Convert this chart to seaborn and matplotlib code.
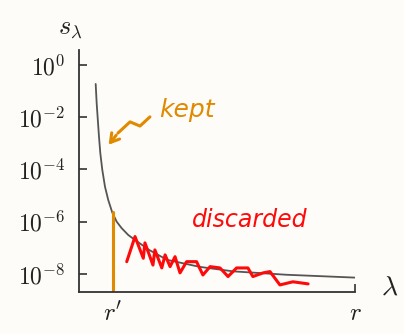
import numpy as np
import matplotlib
matplotlib.use("Agg")
import matplotlib.pyplot as plt
from matplotlib.ticker import NullLocator
import seaborn as sns

# spectrum (lambda in units where r = 100)
lam = [6.05, 6.41, 6.78, 7.25, 7.73, 8.45, 9.42, 10.6, 12.1, 13.66, 15.47, 17.86, 20.3, 25.4,
       31.9, 43.8, 55.8, 75.0, 100.0]
log_s = [-0.73, -1.47, -2.04, -2.75, -3.38, -4.02, -4.66, -5.17, -5.66, -6.00, -6.25, -6.51, -6.70, -7.08,
         -7.46, -7.73, -7.90, -8.03, -8.14]

r_prime = 12.3
r_full = 100.0
xtick_vals = [r_prime, r_full]
xtick_labels = [r"$r'$", r"$r$"]
ytick_vals = [1e0, 1e-2, 1e-4, 1e-6, 1e-8]
ytick_labels = [r"$10^{0}$", r"$10^{-2}$", r"$10^{-4}$", r"$10^{-6}$", r"$10^{-8}$"]

# hand-drawn marks
kept_line_log = [-8.61, -5.62]
kept_arrow_lam = [25.7, 22.1, 18.5, 14.1, 10.1]
kept_arrow_log = [-1.99, -2.34, -2.18, -2.61, -3.14]
squiggle_lam = [17.3, 20.3, 23.3, 23.9, 26.8, 27.5, 30.0, 31.2, 33.0, 34.8, 36.6, 39.0, 42.6,
                44.9, 47.5, 51.1, 54.0, 57.1, 61.2, 63.0, 66.7, 69.2, 72.8, 77.5, 83.0]
squiggle_log = [-7.53, -6.57, -7.40, -6.81, -7.66, -7.08, -7.77, -7.27, -7.72, -7.34, -7.96, -7.53, -7.53,
                -8.04, -7.72, -7.77, -8.10, -7.77, -7.77, -8.10, -7.96, -7.91, -8.42, -8.30, -8.38]


def main():
    bg = "#fdfcf8"
    orange = "#e08a00"
    red = "#ff0a0a"
    sns.set_theme(style="ticks")
    plt.rcParams["mathtext.fontset"] = "cm"

    fig = plt.figure(figsize=(4.04, 3.34), dpi=100, facecolor=bg)
    ax = fig.add_axes([0.1955, 0.1266, 0.6832, 0.7237])
    ax.set_facecolor(bg)
    ax.set_yscale("log")

    sns.lineplot(x=lam, y=10 ** np.array(log_s), color="#555555", lw=1.3, ax=ax)

    ax.set_xlim(0, r_full)
    ax.set_ylim(10 ** -8.68, 10 ** 0.57)
    ax.set_yticks(ytick_vals, ytick_labels, fontsize=17)
    ax.yaxis.set_minor_locator(NullLocator())
    ax.set_xticks(xtick_vals, xtick_labels, fontsize=18)
    ax.tick_params(direction="in", length=6, width=1.2, color="#333333", labelcolor="#222222")
    ax.tick_params(axis="y", pad=10)
    ax.tick_params(axis="x", pad=7)
    sns.despine(ax=ax)
    for side in ("left", "bottom"):
        ax.spines[side].set_color("#333333")
        ax.spines[side].set_linewidth(1.3)

    ax.set_ylabel(r"$s_\lambda$", rotation=0, fontsize=19, color="#222222", ha="center", va="center")
    ax.yaxis.set_label_coords(-0.033, 1.09)
    ax.set_xlabel(r"$\lambda$", fontsize=20, color="#222222", ha="center", va="center")
    ax.xaxis.set_label_coords(1.127, 0.02)

    # kept
    ax.plot([r_prime, r_prime], 10 ** np.array(kept_line_log), color=orange, lw=2.2, solid_capstyle="round")
    ax.plot(kept_arrow_lam[:-1], 10 ** np.array(kept_arrow_log[:-1]), color=orange, lw=2.2,
            solid_capstyle="round", solid_joinstyle="round")
    ax.annotate("", xy=(kept_arrow_lam[-1], 10 ** kept_arrow_log[-1]),
                xytext=(kept_arrow_lam[-2], 10 ** kept_arrow_log[-2]),
                arrowprops=dict(arrowstyle="->,head_length=0.5,head_width=0.3", color=orange, lw=2.2))
    ax.text(39.1, 10 ** -1.72, "kept", color=orange, fontsize=18, style="italic",
            ha="center", va="center")

    # discarded
    ax.plot(squiggle_lam, 10 ** np.array(squiggle_log), color=red, lw=2.2,
            solid_joinstyle="round", solid_capstyle="round")
    ax.text(62.0, 10 ** -5.93, "discarded", color=red, fontsize=17, style="italic",
            ha="center", va="center")

    fig.savefig("out.png", dpi=100, facecolor=bg)


if __name__ == "__main__":
    main()
